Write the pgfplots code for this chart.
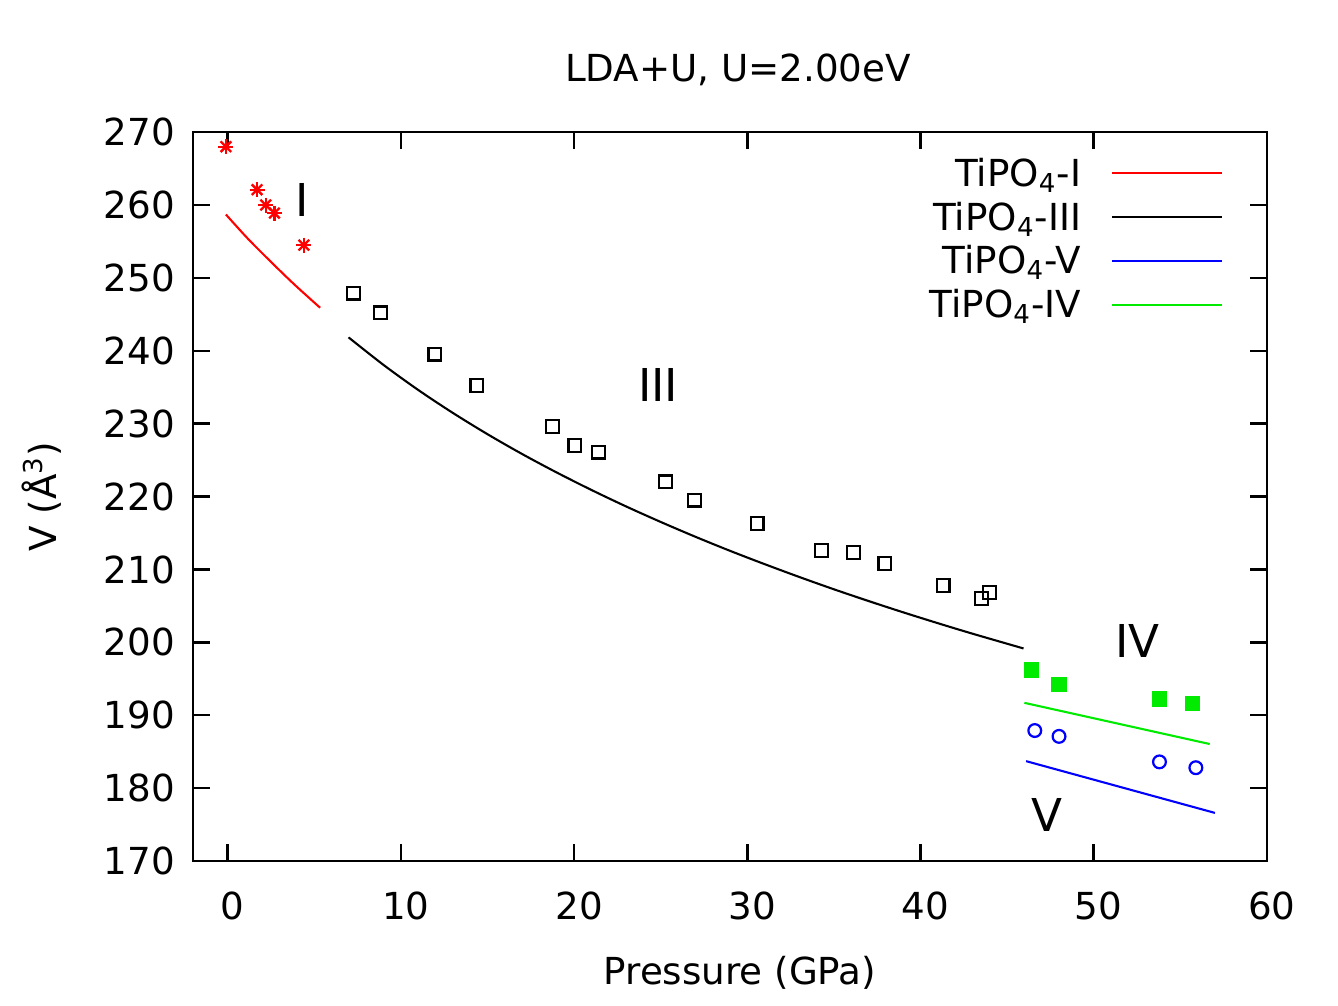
\documentclass[border=0pt]{standalone}
\usepackage{fontspec}
\setmainfont{DejaVu Sans}
\usepackage{pgfplots}
\pgfplotsset{compat=1.18}
\newcommand\fs{\fontsize{13.4pt}{16pt}\selectfont}
\newcommand\fl{\fontsize{16.3pt}{19pt}\selectfont}
\definecolor{gpred}{RGB}{255,0,0}
\definecolor{gpgreen}{RGB}{0,235,0}
\definecolor{gpblue}{RGB}{0,0,255}

\begin{document}
\begin{tikzpicture}
\useasboundingbox (-69.48pt,-51.84pt) rectangle (412.2pt,309.96pt);
\begin{axis}[
  at={(0pt,0pt)}, anchor=south west,
  scale only axis, width=386.6pt, height=262.4pt,
  xmin=-2, xmax=60, ymin=170, ymax=270,
  xtick={0,10,...,60}, ytick={170,180,...,270},
  minor tick num=0,
  tick align=inside, major tick length=6.1pt,
  axis line style={line width=0.9pt},
  major tick style={line width=0.9pt, black},
  /pgf/number format/assume math mode=true,
  tick label style={font=\fs},
  xticklabel style={yshift=-7.5pt, xshift=1.8pt},
  yticklabel style={xshift=-3pt},
  every axis title shift=0pt,
  title={LDA+U, U=2.00eV},
  title style={font=\fs, at={(axis description cs:0.5075,1.0701)}, anchor=base},
  xlabel={Pressure (GPa)},
  xlabel style={font=\fs, at={(axis description cs:0.5093,-0.170)}, anchor=base},
  ylabel={V (Å\textsuperscript{3})},
  ylabel style={font=\fs, at={(axis description cs:-0.1267,0.5)}, anchor=base, rotate=0},
  legend style={draw=none, fill=none, at={(axis description cs:0.9598,0.964)},
    anchor=north east, font=\fs, inner sep=0pt, row sep=0pt,
    nodes={inner sep=0pt, text height=9.8pt, text depth=6pt}},
  legend cell align=right,
  legend plot pos=right,
  legend image code/.code={\draw[#1] (0pt,2.7pt) -- (39.6pt,2.7pt);},
  /tikz/every odd column/.append style={column sep=10.7pt},
]
% calculated equations of state
\addplot[gpred, line width=0.75pt, smooth] coordinates {
  (-0.1,258.7) (1.16,255.4) (2.5,252.2) (3.85,249.1) (5.34,245.9)};
\addlegendentry{TiPO\textsubscript{4}-I}
\addplot[black, line width=0.75pt, smooth] coordinates {
  (6.98,241.84) (9,238.06) (11,234.63) (13,231.48) (15,228.56) (17,225.84)
  (19,223.30) (21,220.91) (23,218.65) (25,216.52) (27,214.49) (29,212.56)
  (31,210.73) (33,208.97) (35,207.28) (37,205.67) (39,204.12) (41,202.63)
  (43,201.19) (45.95,199.16)};
\addlegendentry{TiPO\textsubscript{4}-III}
\addplot[gpblue, line width=0.75pt] coordinates {(46.1,183.7) (57.0,176.6)};
\addlegendentry{TiPO\textsubscript{4}-V}
\addplot[gpgreen, line width=0.75pt] coordinates {(46.0,191.7) (56.7,186.05)};
\addlegendentry{TiPO\textsubscript{4}-IV}

% experimental points
\addplot[forget plot, only marks, gpred, mark=+, mark size=2.7pt, line width=0.85pt]
  coordinates {(-0.1,268.0) (1.7,262.1) (2.2,260.0) (2.7,258.9) (4.4,254.5)};
\addplot[forget plot, only marks, gpred, mark=x, mark size=2.7pt, line width=0.85pt]
  coordinates {(-0.1,268.0) (1.7,262.1) (2.2,260.0) (2.7,258.9) (4.4,254.5)};
\addplot[forget plot, only marks, black, mark=square, mark size=2.3pt, line width=0.8pt]
  coordinates {
  (7.28,247.9) (8.83,245.2) (11.96,239.55) (14.39,235.2) (18.75,229.6)
  (20.05,227.0) (21.4,226.1) (25.27,222.0) (26.94,219.5) (30.57,216.3)
  (34.28,212.6) (36.14,212.3) (37.94,210.8) (41.31,207.8) (43.51,206.0)
  (43.97,206.8)};
\addplot[forget plot, only marks, gpgreen, mark=square*, mark size=2.6pt,
  mark options={fill=gpgreen, draw=gpgreen}]
  coordinates {(46.4,196.2) (48.0,194.2) (53.8,192.2) (55.7,191.6)};
\addplot[forget plot, only marks, gpblue, mark=o, mark size=2.3pt, line width=0.8pt]
  coordinates {(46.6,187.9) (48.0,187.1) (53.8,183.6) (55.9,182.8)};

% phase labels
\node[font=\fl] at (axis cs:4.28,260.7) {I};
\node[font=\fl] at (axis cs:24.86,235.3) {III};
\node[font=\fl] at (axis cs:52.54,200.2) {IV};
\node[font=\fl] at (axis cs:47.28,176.3) {V};
\end{axis}
\end{tikzpicture}
\end{document}
